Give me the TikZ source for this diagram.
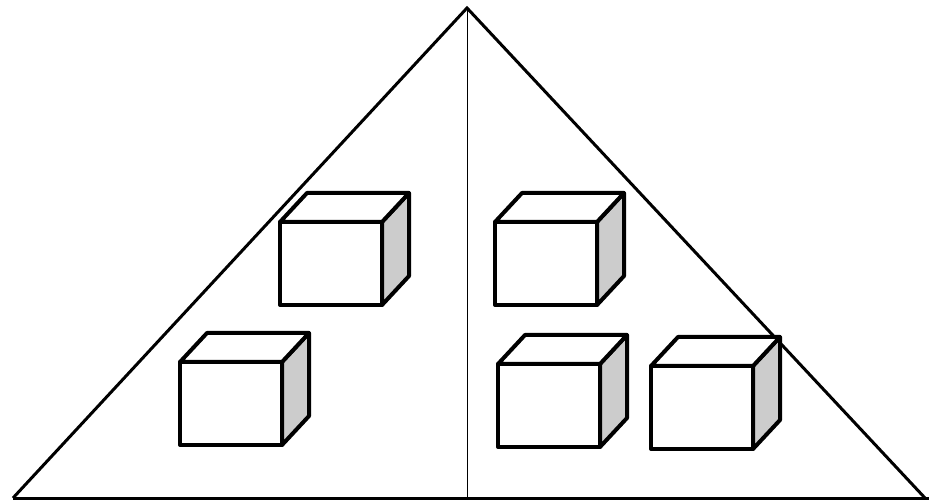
\documentclass[tikz,border=0pt]{standalone}
\usepackage{xcolor}
\usetikzlibrary{positioning}

\begin{document}
\begin{tikzpicture}[
  x=1pt, y=-1pt,
  edge/.style={line width=3pt, line join=miter},
  mid/.style={line width=1pt},
  face/.style={draw, line width=4pt, line join=round, fill=white},
  side/.style={face, fill=black!20},
  cube/.pic={
    \draw[side] (102,0) -- (129,-29) -- (129,54) -- (102,83) -- cycle;
    \draw[face] (0,0) -- (27,-29) -- (129,-29) -- (102,0) -- cycle;
    \draw[face] (0,0) rectangle (102,83);
  },
]
\useasboundingbox (0,0) rectangle (929,502);
% --- triangle ---
\coordinate (apex) at (467,8);
\coordinate (bl)   at (13,498);
\coordinate (br)   at (925,498);
\coordinate (bend) at (929,498);
\coordinate (foot) at (467,498);
\draw[edge] (bl) -- (apex) -- (br);
\draw[edge] (bl) -- (bend);
\draw[mid] (apex) -- (foot);
% --- cubes (front face top-left corner) ---
\foreach \cx/\cy in {280/222, 180/362, 495/222, 498/364, 651/366}
  \pic at (\cx,\cy) {cube};
\end{tikzpicture}
\end{document}
